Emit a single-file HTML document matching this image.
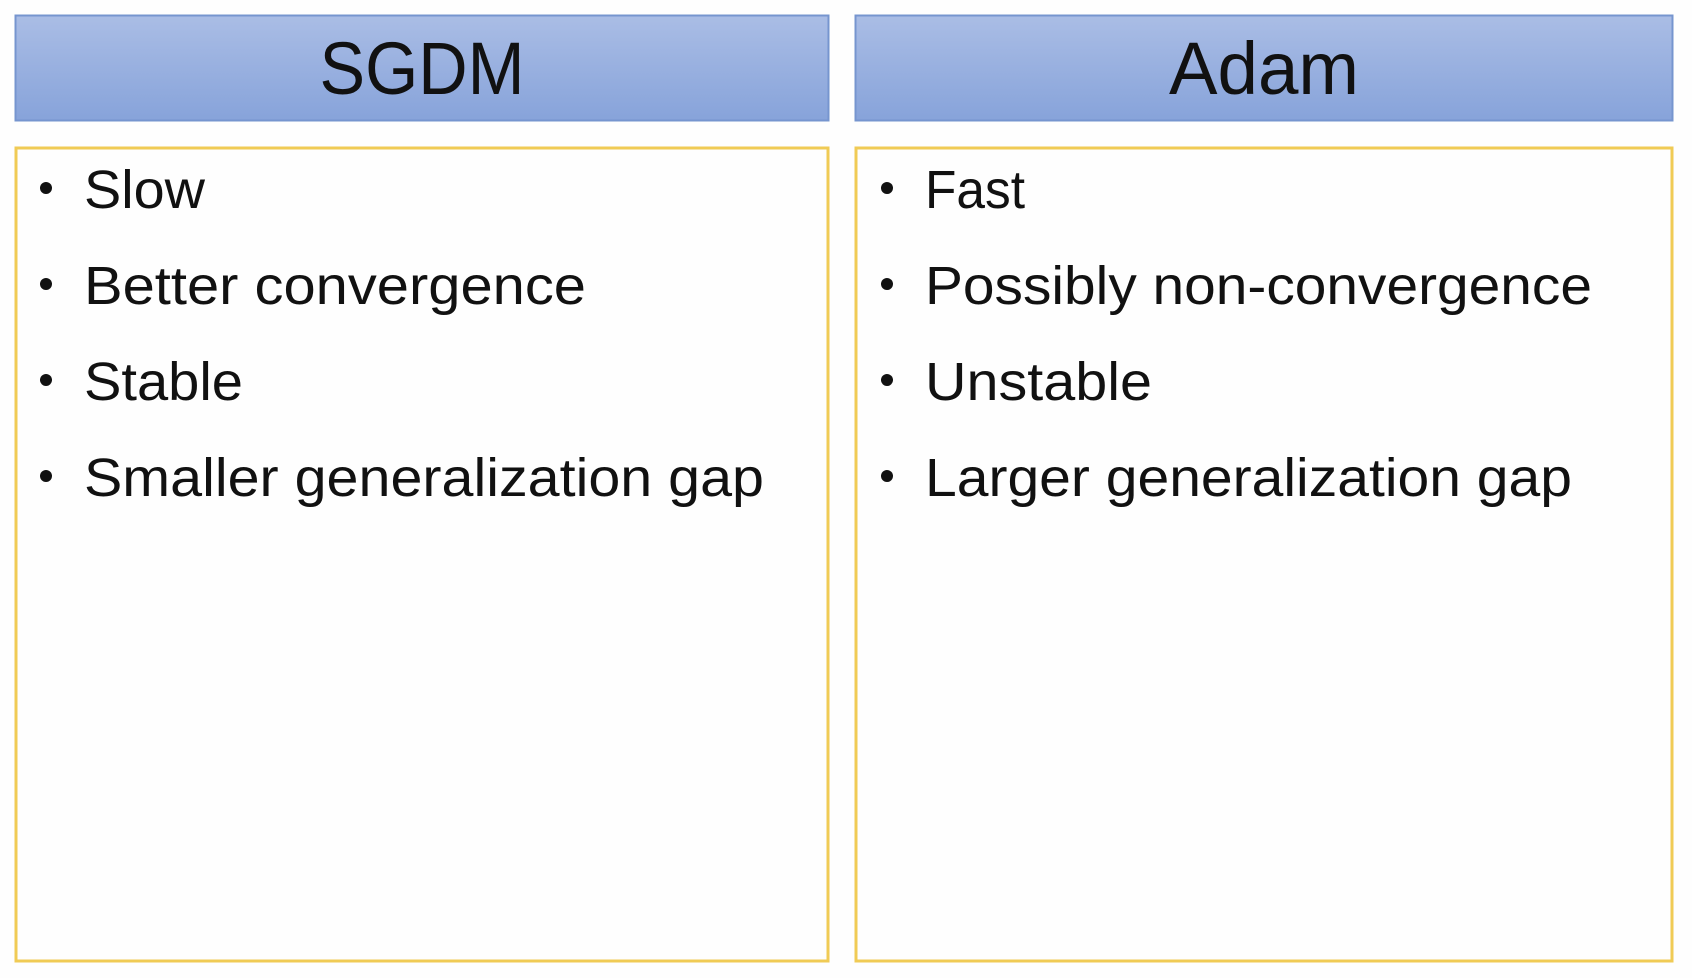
<!DOCTYPE html>
<html><head><style>
html,body{margin:0;padding:0;background:#fefefe;}
svg{display:block;}
text{font-family:"Liberation Sans",sans-serif;fill:#111;}
</style></head><body>
<svg width="1692" height="978" viewBox="0 0 1692 978">
<defs>
<linearGradient id="g" x1="0" y1="0" x2="0" y2="1">
<stop offset="0" stop-color="#aabde5"/>
<stop offset="1" stop-color="#87a3da"/>
</linearGradient>
</defs>
<rect x="15.5" y="15.5" width="813" height="105" fill="url(#g)" stroke="#7695cf" stroke-width="2"/>
<rect x="855.5" y="15.5" width="817" height="105" fill="url(#g)" stroke="#7695cf" stroke-width="2"/>
<text x="422" y="94" font-size="74" text-anchor="middle" textLength="205" lengthAdjust="spacingAndGlyphs">SGDM</text>
<text x="1264" y="94" font-size="74" text-anchor="middle" textLength="190" lengthAdjust="spacingAndGlyphs">Adam</text>
<rect x="16" y="148" width="812" height="813" fill="#fefefe" stroke="#f0cb55" stroke-width="3"/>
<rect x="856" y="148" width="816" height="813" fill="#fefefe" stroke="#f0cb55" stroke-width="3"/>
<g font-size="54">
<circle cx="46" cy="188" r="6" fill="#111"/>
<circle cx="46" cy="284" r="6" fill="#111"/>
<circle cx="46" cy="380" r="6" fill="#111"/>
<circle cx="46" cy="476" r="6" fill="#111"/>
<text x="84" y="208" textLength="121" lengthAdjust="spacingAndGlyphs">Slow</text>
<text x="84" y="304" textLength="502" lengthAdjust="spacingAndGlyphs">Better convergence</text>
<text x="84" y="400" textLength="159" lengthAdjust="spacingAndGlyphs">Stable</text>
<text x="84" y="496" textLength="680" lengthAdjust="spacingAndGlyphs">Smaller generalization gap</text>
<circle cx="887" cy="188" r="6" fill="#111"/>
<circle cx="887" cy="284" r="6" fill="#111"/>
<circle cx="887" cy="380" r="6" fill="#111"/>
<circle cx="887" cy="476" r="6" fill="#111"/>
<text x="925" y="208" textLength="100" lengthAdjust="spacingAndGlyphs">Fast</text>
<text x="925" y="304" textLength="667" lengthAdjust="spacingAndGlyphs">Possibly non-convergence</text>
<text x="925" y="400" textLength="227" lengthAdjust="spacingAndGlyphs">Unstable</text>
<text x="925" y="496" textLength="647" lengthAdjust="spacingAndGlyphs">Larger generalization gap</text>
</g>
</svg>
</body></html>
